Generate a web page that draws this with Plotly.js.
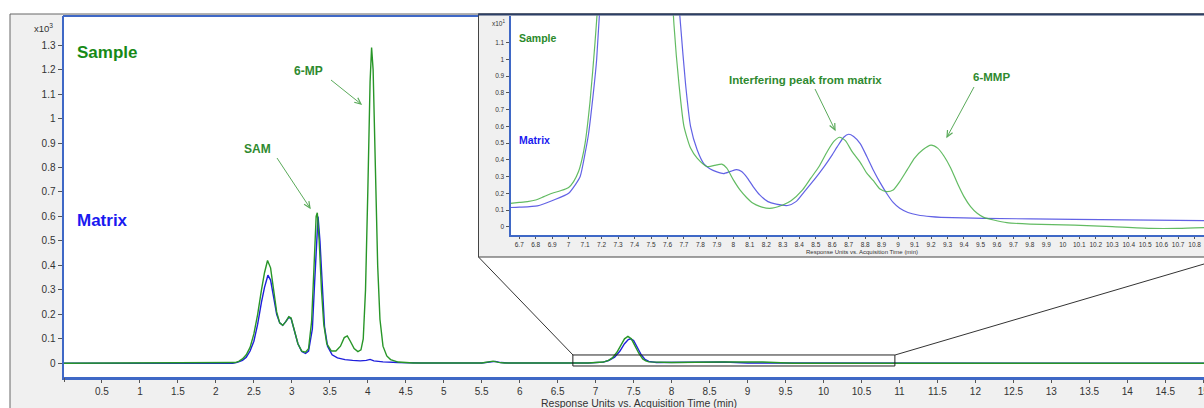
<!DOCTYPE html>
<html>
<head>
<meta charset="utf-8">
<script src="https://cdn.plot.ly/plotly-3.0.1.min.js"></script>
<style>html,body{margin:0;padding:0;background:#fff;}#chart{width:1204px;height:408px;}</style>
</head>
<body>
<div id="chart"></div>
<script>
// ---- Main chromatogram (Response x10^3 vs Acquisition Time, min) ----
const sampleTime = [0, 2.2, 2.25, 2.3, 2.35, 2.4, 2.45, 2.5, 2.55, 2.6, 2.64, 2.68, 2.72, 2.76, 2.8, 2.84, 2.88, 2.92, 2.96, 2.99, 3.03, 3.08, 3.13, 3.18, 3.22, 3.26, 3.29, 3.32, 3.335, 3.36, 3.39, 3.42, 3.46, 3.52, 3.58, 3.64, 3.69, 3.73, 3.77, 3.82, 3.87, 3.91, 3.94, 3.97, 4.0, 4.03, 4.05, 4.07, 4.1, 4.13, 4.16, 4.2, 4.25, 4.3, 4.4, 4.6, 5.5, 5.6, 5.65, 5.72, 5.8, 6.9, 7.0, 7.1, 7.17, 7.22, 7.28, 7.33, 7.38, 7.425, 7.47, 7.52, 7.57, 7.62, 7.66, 7.7, 7.8, 8.0, 8.65, 9.2, 9.6, 15.02];
const sampleResp = [0, 0, 0.003, 0.008, 0.018, 0.035, 0.065, 0.12, 0.2, 0.3, 0.37, 0.42, 0.39, 0.3, 0.21, 0.165, 0.155, 0.17, 0.19, 0.185, 0.14, 0.08, 0.05, 0.045, 0.06, 0.17, 0.38, 0.6, 0.615, 0.5, 0.3, 0.16, 0.08, 0.05, 0.05, 0.07, 0.105, 0.112, 0.09, 0.06, 0.048, 0.055, 0.1, 0.3, 0.7, 1.15, 1.29, 1.2, 0.8, 0.4, 0.18, 0.07, 0.03, 0.015, 0.005, 0.001, 0.001, 0.006, 0.009, 0.004, 0.001, 0.001, 0.002, 0.005, 0.012, 0.022, 0.045, 0.075, 0.1, 0.11, 0.1, 0.07, 0.04, 0.018, 0.01, 0.006, 0.004, 0.003, 0.005, 0.005, 0.0002, 0];
const matrixTime = [0, 2.22, 2.28, 2.35, 2.4, 2.45, 2.5, 2.55, 2.6, 2.64, 2.685, 2.72, 2.76, 2.8, 2.84, 2.88, 2.92, 2.96, 2.99, 3.03, 3.08, 3.13, 3.18, 3.22, 3.27, 3.3, 3.325, 3.345, 3.37, 3.4, 3.43, 3.47, 3.53, 3.6, 3.7, 3.8, 3.9, 3.98, 4.03, 4.08, 4.2, 4.4, 4.7, 5.5, 5.62, 5.68, 5.75, 5.85, 6.9, 7.0, 7.1, 7.17, 7.25, 7.32, 7.38, 7.43, 7.46, 7.5, 7.55, 7.6, 7.65, 7.7, 7.8, 8.0, 8.7, 9.0, 15.02];
const matrixResp = [0, 0, 0.004, 0.012, 0.025, 0.05, 0.09, 0.16, 0.25, 0.31, 0.36, 0.34, 0.27, 0.2, 0.165, 0.155, 0.17, 0.188, 0.183, 0.14, 0.08, 0.048, 0.04, 0.05, 0.14, 0.33, 0.52, 0.6, 0.5, 0.3, 0.15, 0.07, 0.035, 0.022, 0.015, 0.012, 0.01, 0.012, 0.016, 0.01, 0.006, 0.003, 0.001, 0.001, 0.006, 0.008, 0.003, 0.001, 0.0012, 0.002, 0.0048, 0.0115, 0.025, 0.05, 0.08, 0.097, 0.1, 0.093, 0.065, 0.035, 0.016, 0.008, 0.0035, 0.0034, 0.0055, 0.001, 0.0003];

// ---- Inset zoom (Response x10^1) ----
const insetSampleTime = [6.647, 6.7, 6.75, 6.8, 6.85, 6.9, 6.95, 7.0, 7.03, 7.06, 7.08, 7.1, 7.13, 7.16, 7.2, 7.28, 7.38, 7.425, 7.47, 7.57, 7.62, 7.64, 7.67, 7.7, 7.74, 7.78, 7.84, 7.9, 7.93, 7.96, 8.0, 8.04, 8.08, 8.12, 8.16, 8.22, 8.3, 8.35, 8.42, 8.47, 8.52, 8.57, 8.61, 8.645, 8.68, 8.72, 8.77, 8.81, 8.85, 8.89, 8.93, 8.97, 9.01, 9.055, 9.1, 9.15, 9.2, 9.24, 9.28, 9.32, 9.36, 9.4, 9.44, 9.48, 9.52, 9.58, 9.66, 9.8, 10.07, 10.3, 10.53, 10.7, 10.86];
const insetSampleResp = [0.14, 0.145, 0.15, 0.16, 0.18, 0.2, 0.215, 0.235, 0.27, 0.33, 0.4, 0.5, 0.75, 1.1, 1.7, 4.5, 10, 11, 10, 4, 1.6, 1.2, 0.85, 0.6, 0.47, 0.41, 0.36, 0.37, 0.374, 0.35, 0.28, 0.22, 0.175, 0.14, 0.122, 0.11, 0.13, 0.155, 0.22, 0.29, 0.36, 0.45, 0.51, 0.535, 0.515, 0.45, 0.385, 0.32, 0.275, 0.225, 0.21, 0.22, 0.27, 0.34, 0.41, 0.46, 0.488, 0.47, 0.42, 0.35, 0.26, 0.18, 0.12, 0.08, 0.056, 0.04, 0.024, 0.016, 0.01, 0.0, -0.01, -0.01, -0.005];
const insetMatrixTime = [6.647, 6.7, 6.81, 6.91, 7.0, 7.04, 7.07, 7.1, 7.12, 7.15, 7.17, 7.2, 7.25, 7.32, 7.38, 7.43, 7.46, 7.5, 7.55, 7.6, 7.65, 7.68, 7.71, 7.74, 7.78, 7.82, 7.86, 7.9, 7.94, 7.98, 8.02, 8.05, 8.08, 8.12, 8.16, 8.21, 8.26, 8.33, 8.38, 8.43, 8.49, 8.55, 8.6, 8.63, 8.67, 8.7, 8.73, 8.77, 8.81, 8.85, 8.89, 8.93, 8.97, 9.01, 9.06, 9.12, 9.2, 9.26, 9.52, 10.07, 10.86];
const insetMatrixResp = [0.115, 0.117, 0.125, 0.16, 0.2, 0.25, 0.3, 0.44, 0.55, 0.8, 1.0, 1.5, 2.5, 5, 8, 9.7, 10, 9.3, 6.5, 3.5, 1.6, 1.2, 0.85, 0.6, 0.46, 0.378, 0.345, 0.328, 0.318, 0.33, 0.342, 0.33, 0.298, 0.24, 0.19, 0.15, 0.135, 0.127, 0.15, 0.209, 0.28, 0.358, 0.43, 0.477, 0.535, 0.553, 0.54, 0.497, 0.42, 0.338, 0.265, 0.2, 0.145, 0.11, 0.085, 0.07, 0.06, 0.056, 0.05, 0.044, 0.036];

// ---- Tick labels ----
const mainXTickVals = [0.5, 1, 1.5, 2, 2.5, 3, 3.5, 4, 4.5, 5, 5.5, 6, 6.5, 7, 7.5, 8, 8.5, 9, 9.5, 10, 10.5, 11, 11.5, 12, 12.5, 13, 13.5, 14, 14.5, 15];
const mainXTickText = ['0.5', '1', '1.5', '2', '2.5', '3', '3.5', '4', '4.5', '5', '5.5', '6', '6.5', '7', '7.5', '8', '8.5', '9', '9.5', '10', '10.5', '11', '11.5', '12', '12.5', '13', '13.5', '14', '14.5', '15'];
const mainYTickVals = [0, 0.1, 0.2, 0.3, 0.4, 0.5, 0.6, 0.7, 0.8, 0.9, 1, 1.1, 1.2, 1.3];
const mainYTickText = ['0', '0.1', '0.2', '0.3', '0.4', '0.5', '0.6', '0.7', '0.8', '0.9', '1', '1.1', '1.2', '1.3'];
const insetXTickVals = [6.7, 6.8, 6.9, 7, 7.1, 7.2, 7.3, 7.4, 7.5, 7.6, 7.7, 7.8, 7.9, 8, 8.1, 8.2, 8.3, 8.4, 8.5, 8.6, 8.7, 8.8, 8.9, 9, 9.1, 9.2, 9.3, 9.4, 9.5, 9.6, 9.7, 9.8, 9.9, 10, 10.1, 10.2, 10.3, 10.4, 10.5, 10.6, 10.7, 10.8];
const insetXTickText = ['6.7', '6.8', '6.9', '7', '7.1', '7.2', '7.3', '7.4', '7.5', '7.6', '7.7', '7.8', '7.9', '8', '8.1', '8.2', '8.3', '8.4', '8.5', '8.6', '8.7', '8.8', '8.9', '9', '9.1', '9.2', '9.3', '9.4', '9.5', '9.6', '9.7', '9.8', '9.9', '10', '10.1', '10.2', '10.3', '10.4', '10.5', '10.6', '10.7', '10.8'];
const insetYTickVals = [0, 0.1, 0.2, 0.3, 0.4, 0.5, 0.6, 0.7, 0.8, 0.9, 1, 1.1];
const insetYTickText = ['0', '0.1', '0.2', '0.3', '0.4', '0.5', '0.6', '0.7', '0.8', '0.9', '1', '1.1'];

const W = 1204, H = 408;
const X = p => p / W;
const Y = p => 1 - p / H;
const FONT = 'Arial, "Liberation Sans", sans-serif';
const AXBLUE = '#3f68c6';
const ARROW = '#5aaa5a';

const traces = [
  {x: matrixTime, y: matrixResp, xaxis: 'x', yaxis: 'y', type: 'scatter', mode: 'lines',
   line: {color: 'rgb(30,30,220)', width: 1.4}},
  {x: sampleTime, y: sampleResp, xaxis: 'x', yaxis: 'y', type: 'scatter', mode: 'lines',
   line: {color: 'rgb(40,150,40)', width: 1.4}},
  {x: insetMatrixTime, y: insetMatrixResp, xaxis: 'x2', yaxis: 'y2', type: 'scatter', mode: 'lines',
   line: {color: 'rgba(70,70,225,0.85)', width: 1.2, shape: 'spline', smoothing: 0.6}},
  {x: insetSampleTime, y: insetSampleResp, xaxis: 'x2', yaxis: 'y2', type: 'scatter', mode: 'lines',
   line: {color: 'rgba(70,175,70,0.85)', width: 1.2, shape: 'spline', smoothing: 0.6}}
];

function txt(x, y, text, size, color, opts) {
  return Object.assign({xref: 'paper', yref: 'paper', x: X(x), y: Y(y), text: text, showarrow: false,
    font: {family: FONT, size: size, color: color}, xanchor: 'center', yanchor: 'middle'}, opts || {});
}
// arrow drawn as shapes: shaft + open chevron head (pixel positions -> paper)
function arrowShapes(tx, ty, hx, hy, color) {
  const a = Math.atan2(hy - ty, hx - tx), len = 7, s = 0.42;
  const p1 = [hx - len * Math.cos(a - s), hy - len * Math.sin(a - s)];
  const p2 = [hx - len * Math.cos(a + s), hy - len * Math.sin(a + s)];
  return [
    {type: 'line', xref: 'paper', yref: 'paper', x0: X(tx), y0: Y(ty), x1: X(hx), y1: Y(hy),
     line: {color: color, width: 1}, layer: 'above'},
    {type: 'path', xref: 'paper', yref: 'paper',
     path: 'M ' + X(p1[0]) + ',' + Y(p1[1]) + ' L ' + X(hx) + ',' + Y(hy) + ' L ' + X(p2[0]) + ',' + Y(p2[1]),
     line: {color: color, width: 1.2}, layer: 'above'}
  ];
}

const annotations = [
  txt(75, 53, '<b>Sample</b>', 17, '#178a17', {xanchor: 'left'}),
  txt(75, 220, '<b>Matrix</b>', 17, '#1a1af0', {xanchor: 'left'}),
  txt(257, 149, '<b>SAM</b>', 12, '#2f8a2f'),
  txt(308, 71, '<b>6-MP</b>', 12, '#2f8a2f'),
  txt(43, 28, 'x10<sup>3</sup>', 9.5, '#333'),
  txt(639, 403, 'Response Units vs. Acquisition Time (min)', 10.5, '#333'),
  // inset texts
  txt(517, 38, '<b>Sample</b>', 10.5, '#2a8a2a', {xanchor: 'left'}),
  txt(517, 140, '<b>Matrix</b>', 10.5, '#1a1af0', {xanchor: 'left'}),
  txt(805, 80, '<b>Interfering peak from matrix</b>', 11.5, '#2f8a2f'),
  txt(991, 77, '<b>6-MMP</b>', 11.5, '#2f8a2f'),
  txt(498, 23, 'x10<sup>1</sup>', 6.5, '#333'),
  txt(862, 252, 'Response Units vs. Acquisition Time (min)', 6, '#333')
];

let shapes = [
  {type: 'rect', xref: 'paper', yref: 'paper', x0: X(10), x1: X(1230), y0: Y(430), y1: Y(14),
   fillcolor: '#f0f0f0', line: {color: '#666', width: 1}, layer: 'below'},
  {type: 'rect', xref: 'paper', yref: 'paper', x0: X(64), x1: X(1230), y0: Y(377), y1: Y(16),
   fillcolor: '#ffffff', line: {width: 0}, layer: 'below'},
  {type: 'line', xref: 'paper', yref: 'paper', x0: X(63), x1: X(480), y0: Y(16), y1: Y(16),
   line: {color: AXBLUE, width: 2}, layer: 'below'},
  {type: 'rect', xref: 'paper', yref: 'paper', x0: X(478.5), x1: X(1230), y0: Y(257), y1: Y(14),
   fillcolor: '#f0f0f0', line: {color: '#444', width: 1}, layer: 'below'},
  {type: 'rect', xref: 'paper', yref: 'paper', x0: X(510.5), x1: X(1230), y0: Y(235), y1: Y(15.5),
   fillcolor: '#ffffff', line: {width: 0}, layer: 'below'},
  {type: 'line', xref: 'paper', yref: 'paper', x0: X(478), x1: X(1230), y0: Y(14.5), y1: Y(14.5),
   line: {color: '#2c3f66', width: 2}, layer: 'above'},
  // tick mark at time 0 on main x axis
  {type: 'line', xref: 'paper', yref: 'paper', x0: X(64.5), x1: X(64.5), y0: Y(378), y1: Y(382),
   line: {color: '#555', width: 1}, layer: 'above'},
  // zoom box on main chart
  {type: 'rect', xref: 'x', yref: 'y', x0: 6.7, x1: 10.94, y0: -0.011, y1: 0.034,
   line: {color: '#222', width: 1}, fillcolor: 'rgba(0,0,0,0)', layer: 'above'},
  // connector lines
  {type: 'line', xref: 'paper', yref: 'paper', x0: X(478.5), y0: Y(257), x1: X(573), y1: Y(355),
   line: {color: '#333', width: 1}, layer: 'above'},
  {type: 'line', xref: 'paper', yref: 'paper', x0: X(895), y0: Y(355), x1: X(1204), y1: Y(264),
   line: {color: '#333', width: 1}, layer: 'above'}
];
shapes = shapes.concat(
  arrowShapes(277, 158, 310, 208, ARROW),
  arrowShapes(331, 80, 361, 104, ARROW),
  arrowShapes(815, 89, 835, 130, ARROW),
  arrowShapes(974, 87, 947, 137, ARROW)
);

const layout = {
  width: W, height: H, autosize: false,
  margin: {l: 0, r: 0, t: 0, b: 0, pad: 0},
  paper_bgcolor: '#ffffff', plot_bgcolor: 'rgba(0,0,0,0)',
  showlegend: false,
  font: {family: FONT, color: '#333'},
  xaxis: {domain: [X(64), 1], range: [0, 15.01], anchor: 'y', showgrid: false, zeroline: false,
    showline: true, linecolor: AXBLUE, linewidth: 3, ticks: 'outside', ticklen: 3, tickcolor: '#555',
    tickvals: mainXTickVals, ticktext: mainXTickText, tickfont: {family: FONT, size: 10, color: '#333'},
    ticklabeloverflow: 'allow', fixedrange: true},
  yaxis: {domain: [Y(377), Y(16)], range: [-0.056, 1.419], anchor: 'x', showgrid: false, zeroline: false,
    showline: true, linecolor: AXBLUE, linewidth: 2.5, ticks: 'outside', ticklen: 4, tickcolor: '#555',
    tickvals: mainYTickVals, ticktext: mainYTickText, tickfont: {family: FONT, size: 10, color: '#333'},
    fixedrange: true},
  xaxis2: {domain: [X(510.5), 1], range: [6.647, 10.857], anchor: 'y2', showgrid: false, zeroline: false,
    showline: true, linecolor: AXBLUE, linewidth: 2, ticks: 'outside', ticklen: 2, tickcolor: '#555',
    tickvals: insetXTickVals, ticktext: insetXTickText, tickfont: {family: FONT, size: 6.5, color: '#333'},
    ticklabeloverflow: 'allow', fixedrange: true},
  yaxis2: {domain: [Y(235), Y(15.5)], range: [-0.0495, 1.263], anchor: 'x2', showgrid: false, zeroline: false,
    showline: true, linecolor: AXBLUE, linewidth: 2, ticks: 'outside', ticklen: 3, tickcolor: '#555',
    tickvals: insetYTickVals, ticktext: insetYTickText, tickfont: {family: FONT, size: 6.5, color: '#333'},
    fixedrange: true},
  shapes: shapes,
  annotations: annotations
};

Plotly.newPlot('chart', traces, layout, {staticPlot: true, displayModeBar: false});
</script>
</body>
</html>
